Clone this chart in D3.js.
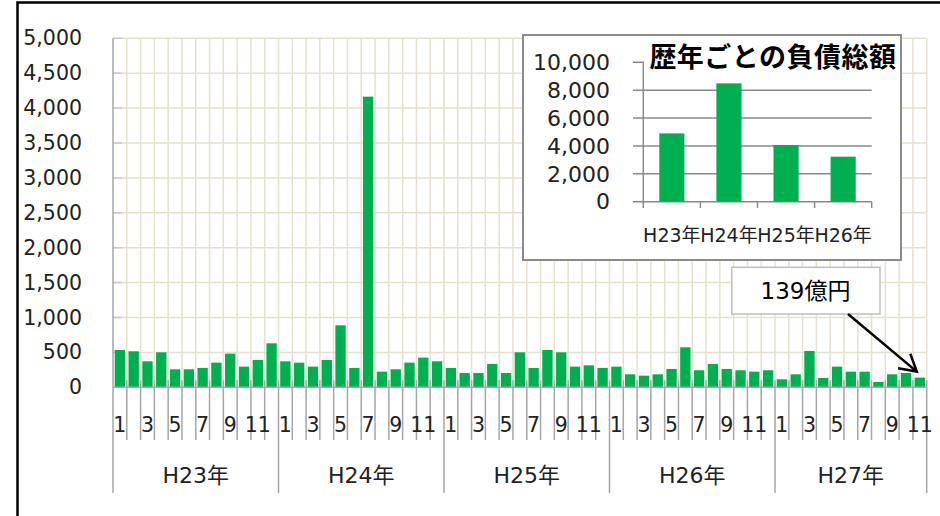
<!DOCTYPE html>
<html>
<head>
<meta charset="utf-8">
<script src="https://cdn.jsdelivr.net/npm/d3@7"></script>
<style>
  body { margin: 0; background: #fff; }
  text { font-family: "DejaVu Sans", "Noto Sans CJK JP", sans-serif; fill: #222; }
</style>
</head>
<body>
<div id="chart-area"></div>
<script>
/* monthly liabilities (億円), per fiscal year */
const years = ["H23年", "H24年", "H25年", "H26年", "H27年"];
const h23 = [535, 516, 372, 501, 258, 258, 277, 353, 482, 296, 392, 630];
const h24 = [372, 353, 296, 392, 888, 277, 4164, 224, 258, 353, 425, 372];
const h25 = [277, 205, 205, 334, 205, 501, 277, 535, 501, 296, 315, 277];
const h26 = [296, 186, 167, 186, 263, 573, 244, 334, 263, 244, 224, 244];
const h27 = [115, 186, 521, 134, 296, 224, 224, 76, 186, 205, 139];
const yTicks = [0, 500, 1000, 1500, 2000, 2500, 3000, 3500, 4000, 4500, 5000];

/* inset: totals per year */
const insetTitle = "歴年ごとの負債総額";
const insetYears = ["H23年", "H24年", "H25年", "H26年"];
const insetTotals = [4900, 8490, 4070, 3230];
const insetTicks = [0, 2000, 4000, 6000, 8000, 10000];

const noteText = "139億円";

const W = 940, H = 516;
const green = "#00b050";
const gridColor = "#e6e1cd";
const axisColor = "#a6a6a6";

var data = [];
[h23, h24, h25, h26, h27].forEach(function(vals, yi) {
	vals.forEach(function(v, mi) {
		data.push({ year: years[yi], month: mi + 1, id: years[yi] + "-" + (mi + 1), value: v });
	});
});

var svg = d3.select("#chart-area")
	.append("svg")
		.attr("width", W)
		.attr("height", H);

svg.append("rect").attr("width", W).attr("height", H).attr("fill", "#fff");

// outer frame (top and left edges visible)
svg.append("path")
	.attr("d", "M17.5,516 L17.5,2.5 L940,2.5")
	.attr("fill", "none")
	.attr("stroke", "#000")
	.attr("stroke-width", 2.5);

/******************************
*		MAIN CHART			  *
******************************/
var plot = { left: 113, right: 926.7, top: 38.3, bottom: 387.3 };

var x = d3.scaleBand()
	.domain(data.map(function(d) { return d.id; }))
	.range([plot.left, plot.right])
	.paddingInner(0.25)
	.paddingOuter(0.125);

var y = d3.scaleLinear()
	.domain([0, 5000])
	.range([plot.bottom, plot.top]);

var step = x.step();
function boundary(i) { return plot.left + i * step; }

var g = svg.append("g");

// gridlines
g.selectAll(".hgrid")
	.data(yTicks.slice(1))
	.enter().append("line")
		.attr("x1", plot.left).attr("x2", plot.right)
		.attr("y1", function(d) { return y(d); })
		.attr("y2", function(d) { return y(d); })
		.attr("stroke", gridColor).attr("stroke-width", 1.5);

g.selectAll(".vgrid")
	.data(d3.range(1, data.length + 1))
	.enter().append("line")
		.attr("x1", boundary).attr("x2", boundary)
		.attr("y1", plot.top).attr("y2", plot.bottom)
		.attr("stroke", gridColor).attr("stroke-width", 1.5);

// y-axis
var yAxisCall = d3.axisLeft(y)
	.tickValues(yTicks)
	.tickSize(0)
	.tickPadding(31)
	.tickFormat(d3.format(","));
var yAxisGroup = g.append("g")
	.attr("transform", "translate(" + plot.left + ",0)")
	.call(yAxisCall);
yAxisGroup.select(".domain").remove();
yAxisGroup.selectAll("text")
	.attr("font-size", "20.5px")
	.attr("font-family", null)
	.attr("fill", "#222");

// y ticks (inside)
g.selectAll(".ytick")
	.data(yTicks)
	.enter().append("line")
		.attr("x1", plot.left).attr("x2", plot.left + 9)
		.attr("y1", function(d) { return y(d); })
		.attr("y2", function(d) { return y(d); })
		.attr("stroke", "#c8c8c8").attr("stroke-width", 1.5);

// bars
g.selectAll(".bar")
	.data(data)
	.enter().append("rect")
		.attr("x", function(d) { return x(d.id); })
		.attr("y", function(d) { return y(d.value); })
		.attr("width", x.bandwidth())
		.attr("height", function(d) { return y(0) - y(d.value); })
		.attr("fill", green);

// x axis: line, month ticks, year separators
g.append("line")
	.attr("x1", plot.left).attr("x2", plot.right)
	.attr("y1", plot.bottom).attr("y2", plot.bottom)
	.attr("stroke", axisColor).attr("stroke-width", 1.5);

var yearStarts = [0];
[h23, h24, h25, h26, h27].forEach(function(v, i) { yearStarts.push(yearStarts[i] + v.length); });

g.selectAll(".mtick")
	.data(d3.range(0, data.length + 1).filter(function(i) { return yearStarts.indexOf(i) < 0; }))
	.enter().append("line")
		.attr("x1", boundary).attr("x2", boundary)
		.attr("y1", plot.bottom - 7).attr("y2", 440)
		.attr("stroke", axisColor).attr("stroke-width", 1.5);

g.selectAll(".ysep")
	.data(yearStarts)
	.enter().append("line")
		.attr("x1", boundary).attr("x2", boundary)
		.attr("y1", function(i) { return i === 0 ? plot.top : plot.bottom - 7; })
		.attr("y2", 493)
		.attr("stroke", axisColor).attr("stroke-width", 1.5);

// month labels (odd months)
g.selectAll(".mlabel")
	.data(data.filter(function(d) { return d.month % 2 === 1; }))
	.enter().append("text")
		.attr("x", function(d) { return x(d.id) + x.bandwidth() / 2; })
		.attr("y", 425)
		.attr("dy", "0.35em")
		.attr("text-anchor", "middle")
		.attr("font-size", "20.5px")
		.text(function(d) { return d.month; });

// year labels
g.selectAll(".ylabel")
	.data(years)
	.enter().append("text")
		.attr("x", function(d, i) { return (boundary(yearStarts[i]) + boundary(yearStarts[i + 1])) / 2; })
		.attr("y", 475)
		.attr("dy", "0.35em")
		.attr("text-anchor", "middle")
		.attr("font-size", "22px")
		.text(function(d) { return d; });

/******************************
*		INSET CHART			  *
******************************/
var ig = svg.append("g");
ig.append("rect")
	.attr("x", 523).attr("y", 35)
	.attr("width", 378).attr("height", 225)
	.attr("fill", "#fff")
	.attr("stroke", "#8c8c8c").attr("stroke-width", 2);

var ix = d3.scaleBand()
	.domain(insetYears)
	.range([643.3, 871.7])
	.paddingInner(0.56)
	.paddingOuter(0.28);

var iy = d3.scaleLinear()
	.domain([0, 10000])
	.range([201.7, 62.3]);

ig.selectAll(".igrid")
	.data(insetTicks)
	.enter().append("line")
		.attr("x1", 633).attr("x2", 871.7)
		.attr("y1", function(d) { return iy(d); })
		.attr("y2", function(d) { return iy(d); })
		.attr("stroke", "#8a8a8a").attr("stroke-width", 1.5);

ig.append("line")
	.attr("x1", 643.3).attr("x2", 643.3)
	.attr("y1", iy(10000)).attr("y2", 208)
	.attr("stroke", "#8a8a8a").attr("stroke-width", 1.5);

var iStep = ix.step();
ig.selectAll(".ixtick")
	.data(d3.range(1, insetYears.length + 1))
	.enter().append("line")
		.attr("x1", function(i) { return 643.3 + i * iStep; })
		.attr("x2", function(i) { return 643.3 + i * iStep; })
		.attr("y1", iy(0)).attr("y2", 208)
		.attr("stroke", "#8a8a8a").attr("stroke-width", 1.5);

ig.selectAll(".ibar")
	.data(insetTotals)
	.enter().append("rect")
		.attr("x", function(d, i) { return ix(insetYears[i]); })
		.attr("y", function(d) { return iy(d); })
		.attr("width", ix.bandwidth())
		.attr("height", function(d) { return iy(0) - iy(d); })
		.attr("fill", green);

ig.selectAll(".iylabel")
	.data(insetTicks)
	.enter().append("text")
		.attr("x", 610)
		.attr("y", function(d) { return iy(d); })
		.attr("dy", "0.35em")
		.attr("text-anchor", "end")
		.attr("font-size", "22px")
		.text(d3.format(","));

ig.selectAll(".ixlabel")
	.data(insetYears)
	.enter().append("text")
		.attr("x", function(d) { return ix(d) + ix.bandwidth() / 2; })
		.attr("y", 235)
		.attr("dy", "0.35em")
		.attr("text-anchor", "middle")
		.attr("font-size", "19px")
		.text(function(d) { return d; });

// title with white backing
ig.append("rect")
	.attr("x", 644).attr("y", 42)
	.attr("width", 255).attr("height", 37)
	.attr("fill", "#fff");
ig.append("text")
	.attr("x", 773)
	.attr("y", 58)
	.attr("dy", "0.35em")
	.attr("text-anchor", "middle")
	.attr("font-size", "27px")
	.attr("font-weight", "bold")
	.style("font-family", "'Noto Sans CJK JP', sans-serif")
	.style("fill", "#000")
	.attr("letter-spacing", "0.5px")
	.text(insetTitle);

/******************************
*		ANNOTATION			  *
******************************/
var last = data[data.length - 1];
var tip = [x(last.id) + x.bandwidth() / 2 - 3, y(last.value) - 6];
var from = [848, 314];

svg.append("rect")
	.attr("x", 731.7).attr("y", 267.3)
	.attr("width", 148.3).attr("height", 46.7)
	.attr("fill", "#fff")
	.attr("stroke", "#bfbfbf").attr("stroke-width", 1.5);
svg.append("text")
	.attr("x", 805.5).attr("y", 291)
	.attr("dy", "0.35em")
	.attr("text-anchor", "middle")
	.attr("font-size", "23px")
	.style("fill", "#000")
	.text(noteText);

var ang = Math.atan2(from[1] - tip[1], from[0] - tip[0]);
var wing = 19, spread = Math.PI / 6;
svg.append("path")
	.attr("d", "M" + from + "L" + tip +
		"M" + [tip[0] + wing * Math.cos(ang - spread), tip[1] + wing * Math.sin(ang - spread)] +
		"L" + tip +
		"L" + [tip[0] + wing * Math.cos(ang + spread), tip[1] + wing * Math.sin(ang + spread)])
	.attr("fill", "none")
	.attr("stroke", "#000")
	.attr("stroke-width", 2.5);
</script>
</body>
</html>
